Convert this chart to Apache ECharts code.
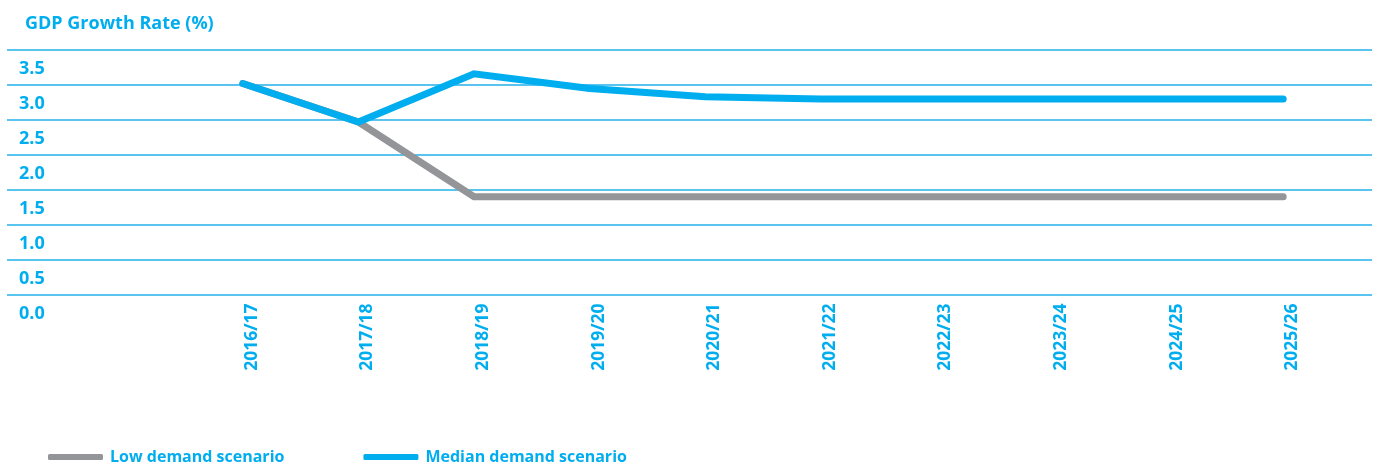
<!DOCTYPE html>
<html>
<head>
<meta charset="utf-8">
<script src="https://cdn.jsdelivr.net/npm/echarts@6/dist/echarts.min.js"></script>
<style>
html,body{margin:0;padding:0;background:#fff;}
#chart{width:1378px;height:466px;}
</style>
</head>
<body>
<div id="chart"></div>
<script>
const categories = ['2016/17','2017/18','2018/19','2019/20','2020/21','2021/22','2022/23','2023/24','2024/25','2025/26'];
const lowDemand = [3.02, 2.47, 1.40, 1.40, 1.40, 1.40, 1.40, 1.40, 1.40, 1.40];
const medianDemand = [3.02, 2.47, 3.16, 2.95, 2.83, 2.80, 2.80, 2.80, 2.80, 2.80];
const yTickLabels = ['0.0','0.5','1.0','1.5','2.0','2.5','3.0','3.5'];
const seriesNames = ['Low demand scenario', 'Median demand scenario'];
const titleText = 'GDP Growth Rate (%)';

const BLUE = '#00aeef';
const GRAY = '#939598';
const FONT = '"Open Sans", sans-serif';

const chart = echarts.init(document.getElementById('chart'), null, {renderer: 'canvas'});
chart.setOption({
  animation: false,
  backgroundColor: '#fff',
  title: {
    text: titleText,
    left: 20, top: 10,
    textStyle: {color: BLUE, fontFamily: FONT, fontWeight: 'bold', fontSize: 18}
  },
  legend: {
    left: 43, top: 444,
    icon: 'roundRect',
    itemWidth: 55, itemHeight: 6,
    itemGap: 79,
    textStyle: {color: BLUE, fontFamily: FONT, fontWeight: 'bold', fontSize: 16, padding: [0,0,0,2]},
    data: seriesNames
  },
  grid: [
    {left: 7, right: 6, top: 50, bottom: 171.5},
    {left: 185, right: 37, top: 50, bottom: 171.5}
  ],
  xAxis: [
    {gridIndex: 0, type: 'value', show: false, min: 0, max: 1},
    {
      gridIndex: 1, type: 'category', data: categories, boundaryGap: true,
      axisLine: {show: false}, axisTick: {show: false},
      axisLabel: {
        rotate: 90, margin: 9, interval: 0,
        color: BLUE, fontFamily: FONT, fontWeight: 'bold', fontSize: 17.5,
        verticalAlign: 'top'
      }
    }
  ],
  yAxis: [
    {
      gridIndex: 0, type: 'value', min: 0, max: 3.5, interval: 0.5,
      axisLine: {show: false}, axisTick: {show: false},
      splitLine: {show: true, lineStyle: {color: '#22b0e8', width: 1.5}},
      axisLabel: {
        inside: true, margin: 12, verticalAlign: 'top', padding: [10, 0, 0, 0],
        color: BLUE, fontFamily: FONT, fontWeight: 'bold', fontSize: 18,
        formatter: function (v, i) { return yTickLabels[i]; }
      }
    },
    {gridIndex: 1, type: 'value', min: 0, max: 3.5, interval: 0.5, show: false, splitLine: {show: false}}
  ],
  series: [
    {
      name: seriesNames[0], type: 'line', xAxisIndex: 1, yAxisIndex: 1,
      data: lowDemand, symbol: 'none', color: GRAY,
      lineStyle: {color: GRAY, width: 7, cap: 'round', join: 'miter'}
    },
    {
      name: seriesNames[1], type: 'line', xAxisIndex: 1, yAxisIndex: 1,
      data: medianDemand, symbol: 'none', color: BLUE,
      lineStyle: {color: BLUE, width: 7, cap: 'round', join: 'miter'}
    }
  ]
});
</script>
</body>
</html>
